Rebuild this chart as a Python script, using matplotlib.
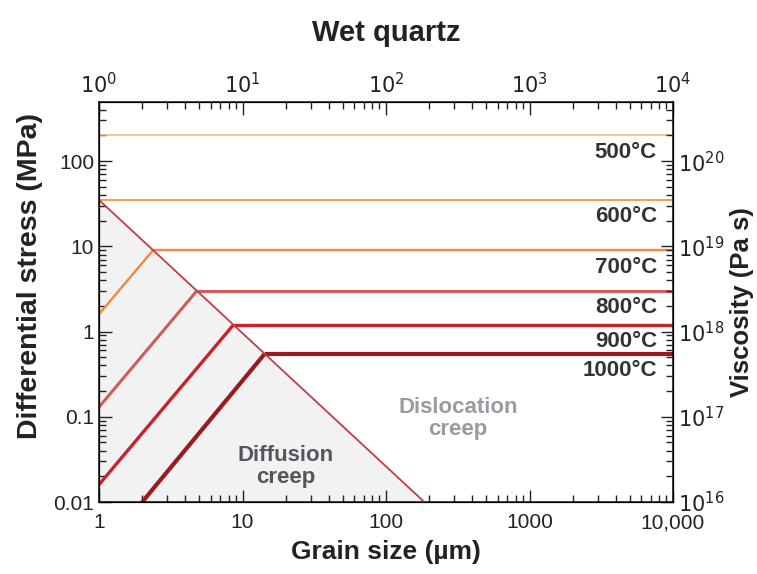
import matplotlib
matplotlib.use("Agg")
import matplotlib.pyplot as plt
from matplotlib.ticker import LogLocator, FixedLocator, FixedFormatter, NullFormatter

plt.rcParams['font.family'] = ['Liberation Sans', 'DejaVu Sans']

# ---- data ----
temps = ['500°C', '600°C', '700°C', '800°C', '900°C', '1000°C']
stress = [200, 35, 9, 3, 1.2, 0.55]                 # dislocation creep stress (MPa)
trans_d = [None, 1.0, 2.38, 4.8, 8.65, 14.3]        # grain size at transition (µm)
diff_start_d = [None, None, 1.0, 1.0, 1.0, 2.0]     # diffusion-line lower-left end (µm)
diff_start_s = [None, None, 1.6, 0.13, 0.016, 0.01] # diffusion-line lower-left end (MPa)
boundary_d = [1.0, 185.0]
boundary_s = [35.0, 0.01]
x_ticks = [1, 10, 100, 1000, 10000]
x_ticklabels = ['1', '10', '100', '1000', '10,000']
y_ticks = [0.01, 0.1, 1, 10, 100]
y_ticklabels = ['0.01', '0.1', '1', '10', '100']
top_ticklabels = [r'$10^{0}$', r'$10^{1}$', r'$10^{2}$', r'$10^{3}$', r'$10^{4}$']
visc_ticklabels = [r'$10^{16}$', r'$10^{17}$', r'$10^{18}$', r'$10^{19}$', r'$10^{20}$']

colors = ['#f5b275', '#f3a055', '#ee8a3c', '#d45a5a', '#c8232d', '#9b1a1f']
widths = [1.1, 1.5, 1.7, 2.2, 2.4, 3.0]

fig = plt.figure(figsize=(7.57, 5.74), dpi=100)
ax = fig.add_axes([99/757, 1-502/574, (673-99)/757, (502-102)/574])
ax.set_xscale('log')
ax.set_yscale('log')
xmin, xmax = 1, 10000
ymin, ymax = 0.01, 494
ax.set_xlim(xmin, xmax)
ax.set_ylim(ymin, ymax)

# diffusion field
ax.fill([boundary_d[0], boundary_d[0], boundary_d[1]],
        [ymin, boundary_s[0], boundary_s[1]], color='#f2f2f2', zorder=1, lw=0)
ax.plot(boundary_d, boundary_s, color='#c43c44', lw=1.3, zorder=3, solid_capstyle='butt')

for i, t in enumerate(temps):
    d0 = trans_d[i] if trans_d[i] is not None else xmin
    ax.plot([d0, xmax], [stress[i], stress[i]], color=colors[i], lw=widths[i], zorder=2,
            solid_capstyle='butt')
    if diff_start_d[i] is not None:
        ax.plot([diff_start_d[i], trans_d[i]], [diff_start_s[i], stress[i]],
                color=colors[i], lw=widths[i], zorder=2, solid_capstyle='butt')
    ax.text(0.972, stress[i] * 0.84, t, transform=ax.get_yaxis_transform(),
            ha='right', va='top', fontsize=16, fontweight='bold', color='#333333', zorder=5)

ax.text(20, 0.026, 'Diffusion\ncreep', ha='center', va='center', fontsize=16,
        fontweight='bold', color='#555560', linespacing=1.05, zorder=5)
ax.text(317, 0.095, 'Dislocation\ncreep', ha='center', va='center', fontsize=16,
        fontweight='bold', color='#9a9aa2', linespacing=1.05, zorder=5)

tc = '#222222'
ax.xaxis.set_major_locator(FixedLocator(x_ticks))
ax.xaxis.set_major_formatter(FixedFormatter(x_ticklabels))
ax.xaxis.set_minor_locator(LogLocator(base=10, subs=range(2, 10)))
ax.xaxis.set_minor_formatter(NullFormatter())
ax.yaxis.set_major_locator(FixedLocator(y_ticks))
ax.yaxis.set_major_formatter(FixedFormatter(y_ticklabels))
ax.yaxis.set_minor_locator(LogLocator(base=10, subs=range(2, 10)))
ax.yaxis.set_minor_formatter(NullFormatter())
ax.tick_params(which='both', direction='in', top=False, right=False, labelsize=15,
               colors=tc, width=1.0)
ax.tick_params(which='major', length=9)
ax.tick_params(which='minor', length=5)
ax.tick_params(axis='x', pad=8)

for s in ax.spines.values():
    s.set_linewidth(1.1)
    s.set_color('#111111')

# top axis
axt = ax.twiny()
axt.set_xscale('log')
axt.set_xlim(xmin, xmax)
axt.xaxis.set_major_locator(FixedLocator(x_ticks))
axt.xaxis.set_major_formatter(FixedFormatter(top_ticklabels))
axt.xaxis.set_minor_locator(LogLocator(base=10, subs=range(2, 10)))
axt.xaxis.set_minor_formatter(NullFormatter())
axt.tick_params(which='both', direction='in', labelsize=15, colors=tc, width=1.0)
axt.tick_params(which='major', length=9)
axt.tick_params(which='minor', length=5)

# right axis (viscosity)
axr = ax.twinx()
axr.set_yscale('log')
axr.set_ylim(ymin * 1e18, ymax * 1e18)
axr.yaxis.set_major_locator(FixedLocator([v * 1e18 for v in y_ticks]))
axr.yaxis.set_major_formatter(FixedFormatter(visc_ticklabels))
axr.yaxis.set_minor_locator(LogLocator(base=10, subs=range(2, 10)))
axr.yaxis.set_minor_formatter(NullFormatter())
axr.tick_params(which='both', direction='in', labelsize=15, colors=tc, width=1.0)
axr.tick_params(which='major', length=9)
axr.tick_params(which='minor', length=5)

ax.set_xlabel('Grain size (µm)', fontsize=19, fontweight='bold', color='#222222', labelpad=6)
ax.set_ylabel('Differential stress (MPa)', fontsize=20.5, fontweight='bold', color='#222222')
ax.yaxis.set_label_coords(-0.098, 0.565)
axr.set_ylabel('Viscosity (Pa s)', fontsize=18.5, fontweight='bold', color='#222222', labelpad=4)
axt.set_title('Wet quartz', fontsize=21, fontweight='bold', color='#222222', pad=44)

fig.savefig('out.png', dpi=100)
